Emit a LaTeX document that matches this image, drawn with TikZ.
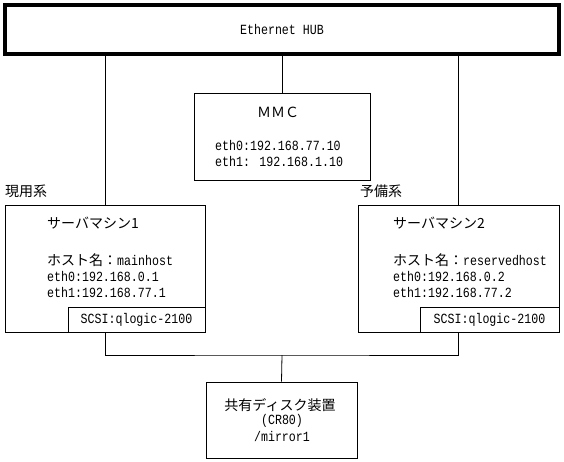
\documentclass[tikz,border=0pt]{standalone}
\usepackage{fontspec}
\setmainfont[FakeStretch=0.83]{Liberation Mono}
\newfontfamily\jp{Noto Sans CJK JP}
\usetikzlibrary{positioning,calc}

\tikzset{
  box/.style={draw, line width=0.8pt, inner sep=0pt},
  txt/.style={anchor=west, inner sep=0pt, font=\fontsize{14}{16}\selectfont},
  jtxt/.style={anchor=west, inner sep=0pt, font=\jp\fontsize{14}{16}\selectfont},
  link/.style={line width=0.8pt}
}

\begin{document}
\begin{tikzpicture}[x=1pt, y=-1pt]
    \useasboundingbox (0,0) rectangle (564,461);

    % Hub
    \node[box, line width=3.5pt, minimum width=554pt, minimum height=49pt,
          font=\fontsize{14}{16}\selectfont] (hub) at (282,29.5) {Ethernet HUB};

    % MMC
    \node[box, minimum width=176pt, minimum height=87pt] (mmc) at (282,136.5) {};
    \node[inner sep=0pt, font=\jp\fontsize{14}{16}\selectfont] (mmcname) at (278,112) {ＭＭＣ};
    \node[txt] (mmceth0) at (215,145) {eth0:192.168.77.10};
    \node[txt] (mmceth1) at (215,161) {eth1: 192.168.1.10};

    % Server 1
    \node[box, minimum width=200pt, minimum height=127pt] (srv1) at (105,268.5) {};
    \node[jtxt] (act) at (5,191) {現用系};
    \node[jtxt] (srv1name) at (47,223) {サーバマシン1};
    \node[txt] (srv1host) at (47,260) {{\jp\fontsize{14}{16}\selectfont ホスト名：}mainhost};
    \node[txt] (srv1eth0) at (47,276) {eth0:192.168.0.1};
    \node[txt] (srv1eth1) at (47,292) {eth1:192.168.77.1};
    \node[box, minimum width=137pt, minimum height=25pt, anchor=south east,
          font=\fontsize{14}{16}\selectfont] (scsi1) at (srv1.south east) {SCSI:qlogic-2100};

    % Server 2
    \node[box, minimum width=201pt, minimum height=127pt] (srv2) at (458.5,268.5) {};
    \node[jtxt] (stby) at (360,191) {予備系};
    \node[jtxt] (srv2name) at (393,223) {サーバマシン2};
    \node[txt] (srv2host) at (393,260) {{\jp\fontsize{14}{16}\selectfont ホスト名：}reservedhost};
    \node[txt] (srv2eth0) at (393,276) {eth0:192.168.0.2};
    \node[txt] (srv2eth1) at (393,292) {eth1:192.168.77.2};
    \node[box, minimum width=139pt, minimum height=25pt, anchor=south east,
          font=\fontsize{14}{16}\selectfont] (scsi2) at (srv2.south east) {SCSI:qlogic-2100};

    % Shared disk
    \node[box, minimum width=151pt, minimum height=76pt] (disk) at (281.5,420) {};
    \node[inner sep=0pt, font=\jp\fontsize{14}{16}\selectfont] (diskname) at (280,405) {共有ディスク装置};
    \node[inner sep=0pt, font=\fontsize{14}{16}\selectfont] (diskid) at (282,421) {(CR80)};
    \node[inner sep=0pt, font=\fontsize{14}{16}\selectfont] (diskpath) at (282,436) {/mirror1};

    % LAN
    \draw[link] (hub.south -| mmc.north) -- (mmc.north);
    \draw[link] (hub.south -| srv1.north) -- (srv1.north);
    \draw[link] (hub.south -| srv2.north) -- (srv2.north);

    % SCSI bus
    \coordinate (bus) at (282,355);
    \draw[link] (srv1.south) |- (bus) -| (srv2.south);
    \draw[link] (bus) -- (disk.north);
\end{tikzpicture}
\end{document}
